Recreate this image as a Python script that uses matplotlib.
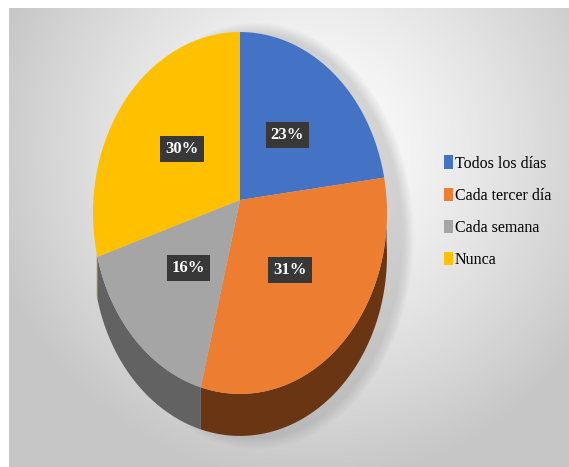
import numpy as np
import matplotlib.pyplot as plt
from matplotlib.patches import Polygon, Patch, Ellipse

labels = ["Todos los días", "Cada tercer día", "Cada semana", "Nunca"]
values = [23, 31, 16, 30]
top_colors = ["#4472c4", "#ed7d31", "#a5a5a5", "#ffc000"]
side_colors = ["#2b4a80", "#6a3512", "#626262", "#a07800"]

W, H = 569, 467
fig = plt.figure(figsize=(W / 100, H / 100), dpi=100)
ax = fig.add_axes([0, 0, 1, 1])
ax.set_xlim(0, W)
ax.set_ylim(H, 0)
ax.axis("off")

# background: radial grey gradient, white towards the upper middle
xs = np.linspace(9, W, 300)
ys = np.linspace(8, H, 250)
X, Y = np.meshgrid(xs, ys)
r = np.sqrt(((X - 310) / 330) ** 2 + ((Y - 150) / 330) ** 2)
g = 1 - 0.22 * np.clip(r, 0, 1) ** 1.3
img = np.dstack([g, g, g])
ax.imshow(img, extent=[9, W, H, 8], zorder=0, aspect="auto")

# pie geometry (pixels), simple perspective projection of a tilted disc
cx, cy = 240, 200          # projected centre of the disc
A, B, k = 146.6, 180, 0.0718
depth = 42
side_from = -163           # left end of the visible side wall (deg)


def pt(t, rad=1.0):
    t = np.radians(t)
    u, v = rad * np.cos(t), rad * np.sin(t)
    d = 1 + k * v
    return cx + A * u / d, cy - B * v / d


# soft shadow to the right / below
for i in range(12):
    ax.add_patch(Ellipse((cx + 16, cy + 36), 2 * A + 2 * i, 2 * 181 + depth + 2 * i,
                         facecolor="#808080", edgecolor="none", alpha=0.025, zorder=1))

fr = np.array(values) / sum(values)
starts = 90 - 360 * np.concatenate([[0], np.cumsum(fr)[:-1]])
ends = starts - 360 * fr

# side walls (front half only)
for s, e, c in zip(starts, ends, side_colors):
    for off in (0, -360):
        a0, a1 = max(e + off, side_from), min(s + off, 0)
        if a1 <= a0:
            continue
        t = np.linspace(a0, a1, 80)
        top = np.array([pt(v) for v in t])
        bot = top + [0, depth]
        poly = np.vstack([top, bot[::-1]])
        ax.add_patch(Polygon(poly, closed=True, facecolor=c, edgecolor="none", zorder=2))

# top faces
for s, e, c in zip(starts, ends, top_colors):
    t = np.linspace(s, e, 120)
    arc = np.array([pt(v) for v in t])
    poly = np.vstack([[(cx, cy)], arc])
    ax.add_patch(Polygon(poly, closed=True, facecolor=c, edgecolor="none", zorder=3))

# data labels
for s, e, v in zip(starts, ends, values):
    lx, ly = pt((s + e) / 2, 0.5)
    ax.text(lx, ly + 1, f"{v}%", ha="center", va="center", color="white",
            fontsize=12, fontweight="bold", family="Liberation Serif", zorder=5,
            bbox=dict(boxstyle="square,pad=0.3", facecolor="#383838", edgecolor="none"))

handles = [Patch(facecolor=c, edgecolor="none") for c in top_colors]
ax.legend(handles, labels, loc="upper left", bbox_to_anchor=(438 / W, 1 - 149 / H),
          frameon=False, prop={"family": "Liberation Serif", "size": 11.5},
          handlelength=0.55, handleheight=0.9, handletextpad=0.1, labelspacing=1.0,
          borderaxespad=0)

fig.savefig("out.png", dpi=100)
